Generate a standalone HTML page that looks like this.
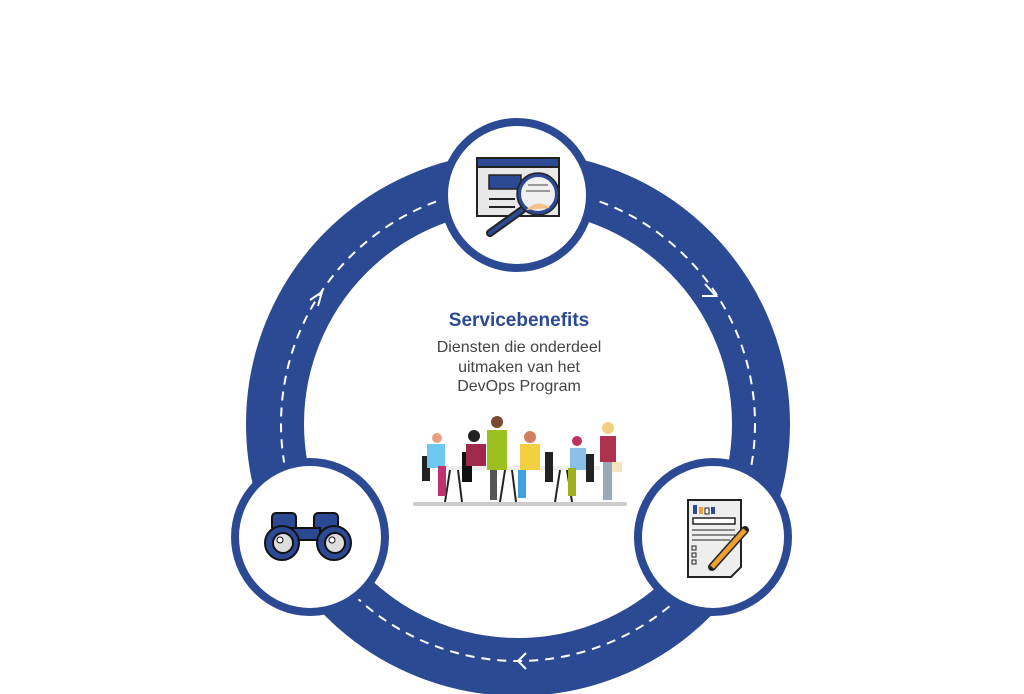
<!DOCTYPE html>
<html><head><meta charset="utf-8"><style>
html,body{margin:0;padding:0;background:#fff;width:1024px;height:694px;overflow:hidden}
</style></head><body>
<svg width="1024" height="694" viewBox="0 0 1024 694" xmlns="http://www.w3.org/2000/svg" font-family="'Liberation Sans',sans-serif">
<circle cx="518" cy="424" r="243" fill="none" stroke="#2c4a94" stroke-width="58"/>
<circle cx="518" cy="424" r="237" fill="none" stroke="#fff" stroke-width="2" stroke-dasharray="9 7"/>
<polyline points="310,300 322,292 318,306" fill="none" stroke="#fff" stroke-width="2"/>
<polyline points="705,284 716,296 702,296" fill="none" stroke="#fff" stroke-width="2"/>
<polyline points="526,653 518,661 526,669" fill="none" stroke="#fff" stroke-width="2"/>
<circle cx="517" cy="195" r="73" fill="#fff" stroke="#2c4a94" stroke-width="8"/>
<circle cx="310" cy="537" r="75" fill="#fff" stroke="#2c4a94" stroke-width="8"/>
<circle cx="713" cy="537" r="75" fill="#fff" stroke="#2c4a94" stroke-width="8"/>
<rect x="477" y="158" width="82" height="58" fill="#e8e8e8" stroke="#222" stroke-width="2"/>
<rect x="477" y="158" width="82" height="9" fill="#2c4a94" stroke="#222" stroke-width="2"/>
<rect x="489" y="175" width="32" height="14" fill="#2c4a94" stroke="#222" stroke-width="1.5"/>
<line x1="489" y1="199" x2="515" y2="199" stroke="#222" stroke-width="2"/>
<line x1="489" y1="207" x2="515" y2="207" stroke="#222" stroke-width="2"/>
<line x1="522" y1="210" x2="490" y2="233" stroke="#222" stroke-width="8" stroke-linecap="round"/>
<line x1="522" y1="210" x2="490" y2="233" stroke="#2c4a94" stroke-width="4" stroke-linecap="round"/>
<circle cx="538" cy="194" r="19" fill="#f0f0f0" stroke="#2c4a94" stroke-width="4"/>
<circle cx="538" cy="194" r="21" fill="none" stroke="#222" stroke-width="1.5"/>
<path d="M526 210 Q538 198 550 208" fill="#f6c08a"/>
<line x1="528" y1="185" x2="548" y2="185" stroke="#999" stroke-width="2"/>
<line x1="526" y1="191" x2="550" y2="191" stroke="#999" stroke-width="2"/>
<rect x="272" y="513" width="24" height="18" rx="4" fill="#2c4a94" stroke="#111" stroke-width="2"/>
<rect x="314" y="513" width="24" height="18" rx="4" fill="#2c4a94" stroke="#111" stroke-width="2"/>
<rect x="290" y="528" width="30" height="12" fill="#2c4a94" stroke="#111" stroke-width="2"/>
<circle cx="282" cy="543" r="17" fill="#2c4a94" stroke="#111" stroke-width="2"/>
<circle cx="334" cy="543" r="17" fill="#2c4a94" stroke="#111" stroke-width="2"/>
<circle cx="283" cy="543" r="10" fill="#ddd" stroke="#111" stroke-width="2"/>
<circle cx="335" cy="543" r="10" fill="#ddd" stroke="#111" stroke-width="2"/>
<circle cx="280" cy="540" r="3" fill="#fff" stroke="#111"/>
<circle cx="332" cy="540" r="3" fill="#fff" stroke="#111"/>
<path d="M688 500 H741 V567 L731 577 H688 Z" fill="#eee" stroke="#222" stroke-width="2"/>
<rect x="693" y="505" width="4" height="9" fill="#2c4a94"/><rect x="699" y="507" width="4" height="7" fill="#f0a030"/><rect x="705" y="508" width="4" height="6" fill="#fff" stroke="#222"/><rect x="711" y="507" width="4" height="7" fill="#2c4a94"/>
<rect x="693" y="518" width="42" height="6" fill="#fff" stroke="#222" stroke-width="1.5"/>
<line x1="692" y1="530" x2="735" y2="530" stroke="#222"/><line x1="692" y1="535" x2="735" y2="535" stroke="#222"/><line x1="692" y1="540" x2="730" y2="540" stroke="#222"/>
<rect x="692" y="546" width="4" height="4" fill="none" stroke="#222"/><rect x="692" y="553" width="4" height="4" fill="none" stroke="#222"/><rect x="692" y="560" width="4" height="4" fill="none" stroke="#222"/>
<line x1="745" y1="530" x2="712" y2="567" stroke="#222" stroke-width="8" stroke-linecap="round"/>
<line x1="745" y1="530" x2="712" y2="567" stroke="#f0a030" stroke-width="5"/>
<text x="519" y="326" text-anchor="middle" font-size="19" font-weight="bold" fill="#2c4a94">Servicebenefits</text>
<text x="519" y="352" text-anchor="middle" font-size="16" fill="#444">Diensten die onderdeel</text>
<text x="519" y="372" text-anchor="middle" font-size="16" fill="#444">uitmaken van het</text>
<text x="519" y="391" text-anchor="middle" font-size="16" fill="#444">DevOps Program</text>
<rect x="413" y="502" width="214" height="4" rx="2" fill="#ccc"/>
<rect x="440" y="466" width="160" height="4" fill="#eee"/>
<line x1="450" y1="470" x2="445" y2="502" stroke="#222" stroke-width="2"/><line x1="458" y1="470" x2="462" y2="502" stroke="#222" stroke-width="2"/>
<line x1="505" y1="470" x2="500" y2="502" stroke="#222" stroke-width="2"/><line x1="512" y1="470" x2="516" y2="502" stroke="#222" stroke-width="2"/>
<line x1="560" y1="470" x2="555" y2="502" stroke="#222" stroke-width="2"/><line x1="567" y1="470" x2="572" y2="502" stroke="#222" stroke-width="2"/>
<rect x="422" y="456" width="8" height="25" fill="#222"/><rect x="427" y="444" width="18" height="24" fill="#6cc8f0"/><circle cx="437" cy="438" r="5" fill="#e8a080"/><rect x="438" y="466" width="8" height="30" fill="#c0306a"/>
<rect x="462" y="452" width="10" height="30" fill="#111"/><rect x="466" y="444" width="20" height="22" fill="#a0284a"/><circle cx="474" cy="436" r="6" fill="#222"/>
<rect x="487" y="430" width="20" height="40" fill="#9cc020"/><circle cx="497" cy="422" r="6" fill="#7a4a30"/><rect x="490" y="470" width="7" height="30" fill="#555"/>
<rect x="520" y="444" width="20" height="26" fill="#f4d040"/><circle cx="530" cy="437" r="6" fill="#d08060"/><rect x="518" y="470" width="8" height="28" fill="#40a0e0"/>
<rect x="545" y="452" width="8" height="30" fill="#222"/>
<rect x="570" y="448" width="16" height="22" fill="#8ac0e8"/><circle cx="577" cy="441" r="5" fill="#c0305a"/><rect x="568" y="468" width="8" height="28" fill="#9cb020"/><rect x="586" y="454" width="8" height="28" fill="#222"/>
<rect x="600" y="436" width="16" height="26" fill="#b03050"/><circle cx="608" cy="428" r="6" fill="#f0d080"/><rect x="603" y="462" width="9" height="38" fill="#9aa8b8"/>
<rect x="612" y="462" width="10" height="10" fill="#f4e4c0"/>
</svg>
</body></html>
